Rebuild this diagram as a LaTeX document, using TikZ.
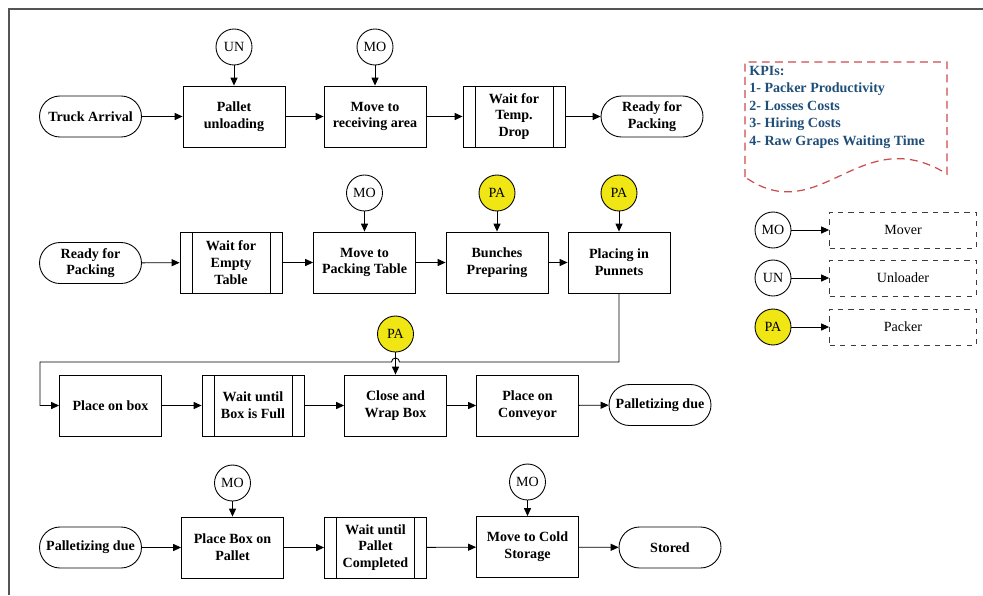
\documentclass[tikz,border=0pt]{standalone}
\usepackage{fontspec}
\setmainfont{Liberation Serif}
\usetikzlibrary{arrows.meta}
\definecolor{Cfr}{RGB}{85,85,85}
\definecolor{Cy}{RGB}{240,230,20}
\definecolor{Ck}{RGB}{31,78,121}
\definecolor{Cr}{RGB}{205,75,75}
\definecolor{Cg}{RGB}{60,60,60}

\begin{document}
\begin{tikzpicture}[x=0.02cm,y=-0.02cm,
    font=\fontsize{8}{9.5}\selectfont,
    arr/.style={line width=0.5pt,-{Triangle[length=4.5pt,width=4pt]}},
    proc/.style={draw,line width=0.5pt,minimum width=2.04cm,minimum height=1.22cm,
      inner sep=1pt,align=center,font=\fontsize{8}{9.5}\selectfont\bfseries},
    waitbox/.style={proc,path picture={
      \draw[line width=0.5pt] ([shift={(12,0)}]path picture bounding box.north west)
        -- ([shift={(12,0)}]path picture bounding box.south west);
      \draw[line width=0.5pt] ([shift={(-12,0)}]path picture bounding box.north east)
        -- ([shift={(-12,0)}]path picture bounding box.south east);}},
    term/.style={draw,line width=0.5pt,rounded corners=0.41cm,minimum width=2.04cm,
      minimum height=0.82cm,inner sep=1pt,align=center,font=\fontsize{8}{9.5}\selectfont\bfseries},
    res/.style={draw,circle,minimum size=0.72cm,inner sep=0pt,line width=0.5pt},
    pack/.style={res,fill=Cy},
    legbox/.style={draw=Cg,dashed,line width=0.5pt,minimum width=2.94cm,minimum height=0.72cm}]
  \useasboundingbox (0,0) rectangle (983,595);
  \draw[Cfr,line width=0.9pt] (9,595) -- (9,9) -- (983,9);

  % row 1
  \node[term] (ta) at (90.5,116.5) {Truck Arrival};
  \node[proc] (pu) at (234,116.5) {Pallet\\unloading};
  \node[proc] (mr) at (375,116.5) {Move to\\receiving area};
  \node[waitbox] (wt) at (514,116.5) {Wait for\\Temp.\\Drop};
  \node[term] (rp) at (652,116.5) {Ready for\\Packing};
  \node[res] (un1) at (234,47) {UN};
  \node[res] (mo1) at (375,47) {MO};
  \draw[arr] (ta) -- (pu);
  \draw[arr] (pu) -- (mr);
  \draw[arr] (mr) -- (wt);
  \draw[arr] (wt) -- (rp);
  \draw[arr] (un1) -- (pu);
  \draw[arr] (mo1) -- (mr);

  % row 2
  \node[term] (rp2) at (90.5,263) {Ready for\\Packing};
  \node[waitbox] (we) at (231,262.5) {Wait for\\Empty\\Table};
  \node[proc] (mp) at (364.5,262.5) {Move to\\Packing Table};
  \node[proc] (bp) at (497,262.5) {Bunches\\Preparing};
  \node[proc] (pp) at (619,262.5) {Placing in\\Punnets};
  \node[res] (mo2) at (364.5,193) {MO};
  \node[pack] (pa1) at (497,193) {PA};
  \node[pack] (pa2) at (619,193) {PA};
  \draw[arr] (rp2) -- (we);
  \draw[arr] (we) -- (mp);
  \draw[arr] (mp) -- (bp);
  \draw[arr] (bp) -- (pp);
  \draw[arr] (mo2) -- (mp);
  \draw[arr] (pa1) -- (bp);
  \draw[arr] (pa2) -- (pp);

  % row 3
  \node[proc] (pob) at (110.5,405.5) {Place on box};
  \node[waitbox] (wbf) at (253,405.5) {Wait until\\Box is Full};
  \node[proc] (cwb) at (395.5,405.5) {Close and\\Wrap Box};
  \node[proc] (poc) at (527.5,405.5) {Place on\\Conveyor};
  \node[term] (pd) at (660,405) {Palletizing due};
  \node[pack] (pa3) at (395.5,334) {PA};
  \coordinate (turn) at (40,362);
  \draw[arr] (pp.south) |- ([xshift=0.08cm]cwb.north |- turn)
    arc[start angle=0,end angle=180,radius=0.08cm] -- (turn) |- (pob.west);
  \draw[arr] (pob) -- (wbf);
  \draw[arr] (wbf) -- (cwb);
  \draw[arr] (cwb) -- (poc);
  \draw[arr] (poc) -- (pd);
  \draw[arr] (pa3) -- (cwb);

  % row 4
  \node[term] (pd2) at (90.5,547.5) {Palletizing due};
  \node[proc] (pbp) at (232.5,547.5) {Place Box on\\Pallet};
  \node[waitbox] (wpc) at (375.5,547.5) {Wait until\\Pallet\\Completed};
  \node[proc] (mcs) at (527.5,547) {Move to Cold\\Storage};
  \node[term] (st) at (670,547.5) {Stored};
  \node[res] (mo3) at (232.5,483) {MO};
  \node[res] (mo4) at (527.5,482) {MO};
  \draw[arr] (pd2) -- (pbp);
  \draw[arr] (pbp) -- (wpc);
  \draw[arr] (wpc) -- (mcs);
  \draw[arr] (mcs) -- (st);
  \draw[arr] (mo3) -- (pbp);
  \draw[arr] (mo4) -- (mcs);

  % KPIs
  \draw[Cr,line width=0.7pt,dash pattern=on 4.5pt off 3pt]
    (745,177) -- (745,62) -- (947,62) -- (947,174)
    .. controls (860,120) and (820,230) .. cycle;
  \node[Ck,anchor=north west,inner sep=0pt,align=left,
    font=\fontsize{8}{9.9}\selectfont\bfseries] (kpi) at (749,66)
    {KPIs:\\1- Packer Productivity\\2- Losses Costs\\3- Hiring Costs\\4- Raw Grapes Waiting Time};

  % legend
  \foreach \y/\r/\s/\t in {230/MO/res/Mover,278/UN/res/Unloader,327/PA/pack/Packer}{
    \node[\s] (l\r) at (773,\y) {\r};
    \node[legbox] (b\r) at (903,\y) {\t};
    \draw[arr] (l\r) -- (b\r);
  }
\end{tikzpicture}
\end{document}
